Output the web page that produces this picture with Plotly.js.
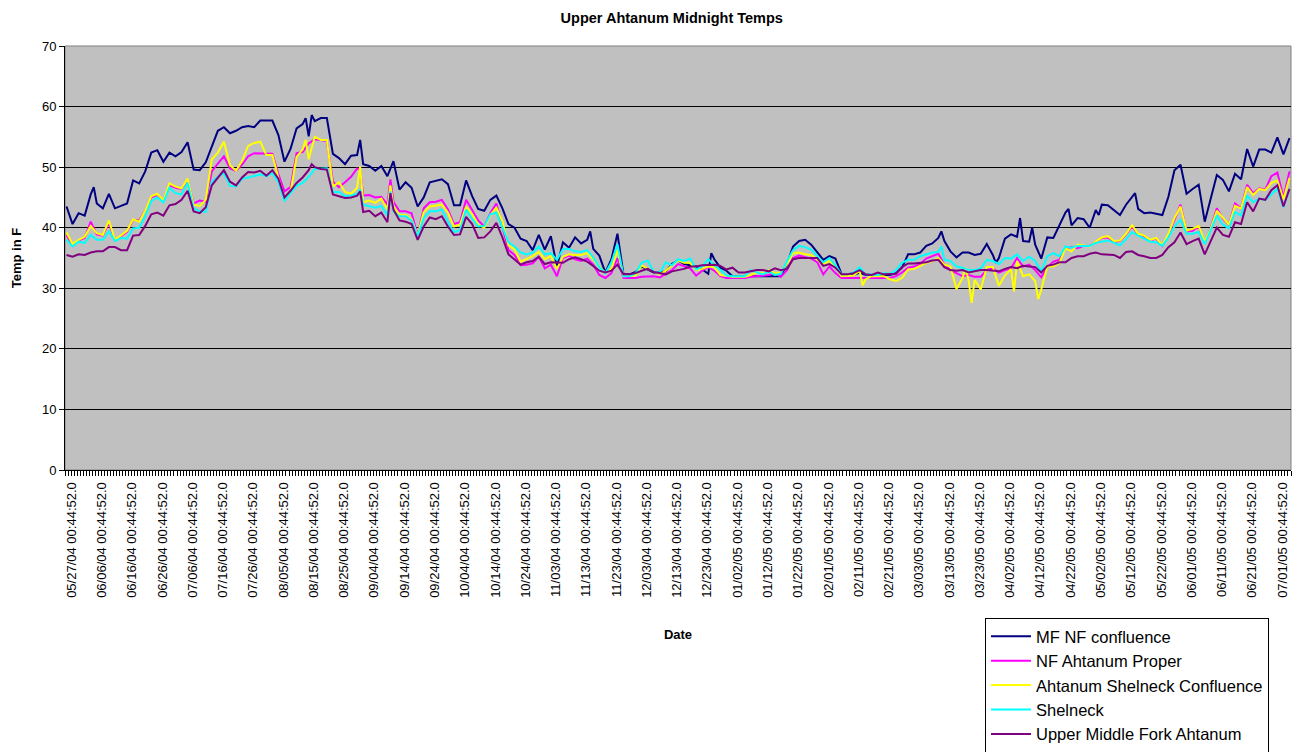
<!DOCTYPE html>
<html>
<head>
<meta charset="utf-8">
<script src="https://cdn.plot.ly/plotly-3.0.1.min.js"></script>
<style>
html,body{margin:0;padding:0;background:#ffffff;}
#chart{width:1312px;height:752px;}
</style>
</head>
<body>
<div id="chart"></div>
<script>
// Day index 0 = 05/27/04; readings every second day (0,2,...,404)
const dayStep = 2;
const lastDay = 404;

// Tick label dates (every 10 days)
const tickDates = ["05/27/04","06/06/04","06/16/04","06/26/04","07/06/04","07/16/04","07/26/04","08/05/04","08/15/04","08/25/04",
"09/04/04","09/14/04","09/24/04","10/04/04","10/14/04","10/24/04","11/03/04","11/13/04","11/23/04","12/03/04",
"12/13/04","12/23/04","01/02/05","01/12/05","01/22/05","02/01/05","02/11/05","02/21/05","03/03/05","03/13/05",
"03/23/05","04/02/05","04/12/05","04/22/05","05/02/05","05/12/05","05/22/05","06/01/05","06/11/05","06/21/05","07/01/05"];
const tickTime = " 00:44:52.0";

const seriesNames = ["MF NF confluence","NF Ahtanum Proper","Ahtanum Shelneck Confluence","Shelneck","Upper Middle Fork Ahtanum"];
const seriesColors = ["#000080","#FF00FF","#FFFF00","#00FFFF","#800080"];

const mfNF = [
43.5,40.6,42.4,42.0,45.5,44.0,43.2,45.6,43.2,43.6,44.0,47.8,47.3,49.3,52.4,52.8,50.9,52.4,
51.8,52.5,54.1,49.6,49.5,50.8,53.4,56.0,56.6,55.6,56.0,56.6,56.8,56.6,57.7,57.7,57.7,
55.3,50.9,53.0,56.4,57.1,55.1,57.6,58.1,58.1,52.2,51.5,50.5,51.9,52.0,50.5,50.2,49.4,
50.2,48.5,51.0,46.3,47.5,46.6,43.5,45.0,47.5,47.7,48.0,47.2,43.7,43.7,47.8,45.2,43.1,
42.8,44.6,45.3,43.2,40.6,40.0,38.2,37.8,36.3,38.8,36.4,38.6,33.6,37.6,36.7,38.4,37.4,
38.0,36.5,35.4,32.6,34.8,39.0,32.3,32.3,32.7,33.6,33.1,32.6,32.6,32.8,34.0,34.6,34.0,
33.8,33.6,33.1,32.4,34.8,33.4,32.9,32.0,32.0,31.9,31.9,32.0,32.0,32.0,32.0,32.0,34.0,
36.9,37.8,38.0,37.2,35.9,34.7,35.3,34.9,32.4,32.2,32.2,32.6,32.2,32.2,32.3,32.2,32.2,
32.5,33.4,35.6,35.6,35.9,37.0,37.4,38.3,37.8,36.1,35.1,35.9,35.9,35.5,35.7,37.3,35.5,
35.0,38.2,38.9,38.5,37.8,37.7,37.2,34.9,38.4,38.3,40.5,42.5,40.4,41.6,41.4,40.0,42.9,
43.8,43.7,42.9,42.1,43.8,45.1,43.1,42.4,42.5,42.3,42.1,45.1,49.5,50.4,45.6,46.4,47.1,
41.0,44.7,48.7,47.9,46.0,48.9,48.0,53.0,50.1,52.9,52.9,52.4,54.9,52.1,54.8];
const mfNFExtra = [[9,46.7],[79,58.1],[81,58.6],[97,54.5],[173,39.4],[213,35.8],[289,39.4],[307,34.2],[315,41.6],[319,40.0],[331,43.1],[341,42.1],[353,45.7]];

const nfProper = [
38.8,37.0,37.9,38.3,41.0,38.9,38.7,40.8,37.9,38.6,39.3,41.3,41.2,42.8,45.0,45.4,44.4,47.0,
46.6,46.4,47.9,44.0,44.5,44.3,49.3,50.6,51.8,49.8,49.4,50.4,51.8,52.3,52.3,52.3,52.2,
48.8,46.0,46.7,52.3,52.5,53.9,54.6,54.5,54.3,47.6,46.7,47.5,48.4,49.8,45.3,45.4,45.0,
45.1,43.8,44.3,42.7,42.7,42.4,38.7,43.2,44.2,44.3,44.6,43.0,40.6,40.9,44.6,42.8,41.2,
40.2,42.4,44.0,40.2,36.3,35.5,33.8,33.9,34.1,35.2,33.3,33.9,32.0,35.0,35.4,34.8,34.5,
34.9,33.9,32.2,31.7,32.5,35.0,31.7,31.7,31.7,31.9,32.0,32.0,31.8,32.4,33.0,34.0,33.7,
33.3,32.1,32.9,33.5,32.9,32.0,31.7,31.7,31.7,31.7,31.9,32.0,32.0,32.2,32.5,31.9,33.0,
35.0,35.4,35.2,34.9,34.3,32.3,33.6,32.5,31.7,31.7,31.7,31.7,31.7,31.7,31.7,31.7,31.7,
32.0,32.6,33.4,33.6,34.0,34.9,35.3,35.7,33.9,33.0,32.5,32.0,32.2,31.9,31.9,33.0,33.3,
32.6,33.0,33.3,35.0,33.6,33.9,33.0,31.8,33.5,34.4,34.7,36.6,36.8,36.6,37.0,37.0,37.6,
38.3,38.4,37.7,37.8,38.9,40.2,38.9,38.5,37.9,38.2,37.0,38.8,41.4,43.8,39.4,39.5,40.2,
37.5,40.0,43.2,41.5,40.5,44.0,43.2,47.1,45.7,46.5,46.3,48.5,49.1,45.0,49.3];
const nfProperExtra = [[97,49.6],[107,48.0]];

const shelConf = [
39.2,37.3,38.0,38.5,40.3,39.1,38.8,41.2,38.0,38.8,39.5,41.4,41.0,42.8,45.2,45.6,44.5,47.3,
46.8,46.5,48.1,43.8,43.6,44.6,51.3,52.4,54.2,50.3,49.4,51.0,53.5,54.0,54.2,52.0,52.0,
48.2,44.8,45.9,51.7,52.9,51.3,55.0,54.5,54.5,46.8,47.5,45.9,45.6,46.6,44.2,44.5,44.1,
44.8,43.0,43.5,42.1,42.1,41.4,38.7,42.6,43.5,43.6,43.8,42.5,40.2,40.5,43.5,42.2,40.5,
40.0,42.1,43.3,41.0,37.1,36.4,34.4,34.8,35.3,36.0,34.8,35.3,33.2,35.2,35.6,35.5,35.5,
35.8,34.8,33.5,32.6,33.2,36.3,32.0,32.0,32.1,33.8,33.2,32.8,32.3,32.9,33.8,34.6,34.2,
34.2,33.0,33.2,33.6,33.5,32.2,32.0,31.9,31.9,31.9,32.2,32.6,32.5,33.0,32.5,32.6,34.0,
35.8,35.9,35.6,35.5,34.8,34.0,34.5,33.7,32.0,32.0,32.1,32.9,31.5,32.0,32.0,32.0,31.5,
31.2,31.7,33.1,33.2,33.7,34.2,34.5,35.0,33.9,33.6,29.9,31.7,31.3,31.4,29.8,33.5,33.5,
30.4,32.1,33.2,34.5,32.0,32.3,31.2,29.8,33.6,33.6,34.2,36.6,36.1,37.2,37.1,36.9,37.7,
38.4,38.6,37.8,37.9,39.0,40.4,39.0,38.7,38.0,38.3,37.1,39.0,41.6,43.5,39.5,39.8,40.3,
37.7,39.9,42.8,41.6,40.5,43.6,43.2,46.7,45.4,46.4,46.2,47.4,47.8,44.7,48.2];
const shelConfExtra = [[79,54.5],[97,50.1],[107,47.0],[263,30.5],[297,33.4],[299,27.6],[313,29.5],[321,28.2]];

const shelneck = [
38.0,36.9,37.7,37.5,38.8,38.0,38.0,39.4,37.8,38.3,38.2,39.9,40.0,41.9,44.4,45.0,44.2,46.6,
45.7,45.5,47.4,43.2,42.7,42.6,47.6,48.4,49.0,46.9,46.8,48.1,48.3,48.6,48.8,48.5,49.0,
47.5,44.4,45.7,46.9,47.4,48.4,49.7,49.8,49.8,45.9,45.9,45.2,45.3,45.6,43.8,43.5,43.3,
43.6,42.0,42.7,41.9,41.9,41.2,38.6,41.6,42.7,42.7,43.0,41.0,39.3,39.6,43.0,41.5,40.2,
40.3,42.2,42.5,40.2,37.6,36.9,35.9,35.6,35.9,36.9,35.6,35.8,34.7,36.5,36.5,36.1,36.0,
36.3,35.1,33.5,32.5,34.3,37.3,32.0,32.0,32.5,34.2,34.6,32.7,32.6,34.3,33.8,34.8,34.5,
34.9,33.1,33.6,34.8,33.8,33.0,32.1,32.0,32.0,32.0,33.0,32.6,32.3,32.8,32.2,32.4,34.5,
36.3,37.0,36.8,36.4,35.3,34.3,35.0,33.8,32.3,32.3,32.6,33.5,32.3,32.2,32.2,32.5,32.4,
33.0,34.2,34.7,34.7,35.3,35.6,35.9,36.0,34.7,34.5,33.6,33.4,33.0,33.0,33.3,34.7,34.5,
34.0,35.0,34.9,35.6,34.5,35.2,34.5,32.8,35.3,35.8,35.3,36.9,36.7,37.0,37.0,37.0,37.5,
37.7,37.9,37.5,37.1,38.1,39.3,38.7,38.2,37.7,37.6,37.0,38.4,40.2,41.3,39.0,39.0,39.3,
37.3,39.7,42.0,40.5,39.9,42.6,42.0,45.3,44.2,44.8,44.6,45.5,46.5,43.4,46.4];
const shelneckExtra = [[97,46.3],[107,46.0],[289,36.9]];

const upperMF = [
35.5,35.2,35.6,35.5,35.9,36.1,36.1,36.8,36.8,36.3,36.3,38.7,38.8,40.3,42.2,42.5,42.0,43.7,
43.9,44.6,46.1,42.7,42.4,43.4,47.0,48.3,49.5,47.6,47.0,48.3,49.2,49.1,49.4,48.6,49.5,
48.1,45.0,46.1,47.4,48.3,49.5,50.0,49.7,49.6,45.5,45.2,44.9,45.0,45.3,42.6,42.8,41.9,
42.5,40.9,43.0,41.2,41.0,40.6,38.0,40.2,41.7,41.4,41.9,40.2,38.8,38.9,41.8,40.6,38.3,
38.4,39.4,40.8,38.4,35.6,34.8,33.9,34.3,34.5,35.2,34.0,34.3,34.2,34.2,34.8,35.1,34.8,
34.4,33.7,32.9,32.6,32.9,33.9,32.3,32.3,32.5,32.9,33.2,32.7,32.5,32.3,32.8,33.0,33.2,
33.6,33.6,33.8,33.9,33.9,33.7,33.1,33.4,32.6,32.6,32.8,33.0,33.0,32.8,33.3,33.0,33.2,
34.8,35.0,35.0,35.0,35.0,33.7,34.0,33.4,32.3,32.3,32.5,33.0,32.3,32.2,32.6,32.3,32.3,
32.4,33.5,34.1,34.1,34.2,34.3,34.6,34.7,33.5,33.0,32.9,33.0,32.6,32.8,33.0,33.0,32.9,
32.8,33.2,33.5,33.3,33.7,33.6,33.5,32.6,33.7,33.9,34.3,34.3,35.0,35.3,35.3,35.7,35.9,
35.6,35.5,35.5,35.0,36.0,36.1,35.5,35.3,35.0,35.0,35.5,36.8,37.6,39.2,37.3,37.8,38.2,
35.6,37.9,40.0,38.8,38.5,40.9,40.6,44.2,42.7,44.8,44.6,46.2,47.0,43.5,46.4];
const upperMFExtra = [[81,50.5],[97,46.0],[107,45.7]];

const FONT = "Liberation Sans, Arial, sans-serif";

function buildSeries(vals, extra){
  const pts = vals.map((v,i)=>[i*dayStep, v]).concat(extra);
  pts.sort((a,b)=>a[0]-b[0]);
  return {x: pts.map(p=>p[0]), y: pts.map(p=>p[1])};
}

const allVals = [mfNF, nfProper, shelConf, shelneck, upperMF];
const allExtra = [mfNFExtra, nfProperExtra, shelConfExtra, shelneckExtra, upperMFExtra];

const traces = allVals.map((vals, k)=>{
  const s = buildSeries(vals, allExtra[k]);
  return {
    type: 'scatter', mode: 'lines', name: seriesNames[k],
    x: s.x, y: s.y,
    line: {color: seriesColors[k], width: 2},
    hoverinfo: 'skip'
  };
});

const tickVals = tickDates.map((d,i)=>i*10);
const tickText = tickDates.map(d=>d + tickTime);

const layout = {
  width: 1312, height: 752,
  margin: {l: 65, r: 21, t: 46, b: 282, pad: 0, autoexpand: false},
  paper_bgcolor: '#ffffff',
  plot_bgcolor: '#C0C0C0',
  showlegend: true,
  title: {
    text: 'Upper Ahtanum Midnight Temps',
    font: {family: FONT, size: 14.5, color: '#000000', weight: 'bold'},
    xref: 'container', x: 0.512, xanchor: 'center',
    yref: 'container', y: 0.976, yanchor: 'middle'
  },
  xaxis: {
    range: [-0.5, lastDay + 0.5],
    automargin: false,
    tickmode: 'array', tickvals: tickVals, ticktext: tickText,
    tickangle: -90,
    tickfont: {family: FONT, size: 13, color: '#000000'},
    ticks: 'outside', ticklen: 6, tickcolor: 'rgba(0,0,0,0)',
    ticklabelshift: 5,
    showgrid: false, zeroline: false,
    showline: true, linecolor: '#000000', linewidth: 1,
    minor: {tick0: 0.5, dtick: 1, ticks: 'outside', ticklen: 5, tickcolor: '#000000', tickwidth: 1, showgrid: false},
    title: {text: 'Date', font: {family: FONT, size: 13, color: '#000000', weight: 'bold'}, standoff: 33},
    fixedrange: true
  },
  yaxis: {
    range: [0, 70], tick0: 0, dtick: 10,
    automargin: false,
    tickfont: {family: FONT, size: 13, color: '#000000'},
    ticks: 'outside', ticklen: 5, tickcolor: '#000000',
    showgrid: true, gridcolor: '#000000', gridwidth: 1,
    zeroline: false,
    showline: true, linecolor: '#000000', linewidth: 1,
    title: {text: 'Temp in F', font: {family: FONT, size: 13, color: '#000000', weight: 'bold'}, standoff: 17},
    fixedrange: true
  },
  legend: {
    x: 0.7504, xanchor: 'left', y: -0.349, yanchor: 'top',
    bgcolor: '#ffffff', bordercolor: '#000000', borderwidth: 1,
    font: {family: FONT, size: 16.5, color: '#000000'},
    tracegroupgap: 0, itemwidth: 40
  },
  shapes: [{
    type: 'rect', xref: 'paper', yref: 'paper', x0: 0, x1: 1, y0: 0, y1: 1,
    line: {color: '#808080', width: 1}, layer: 'below'
  }]
};

Plotly.newPlot('chart', traces, layout, {displayModeBar: false, staticPlot: true});
</script>
</body>
</html>
